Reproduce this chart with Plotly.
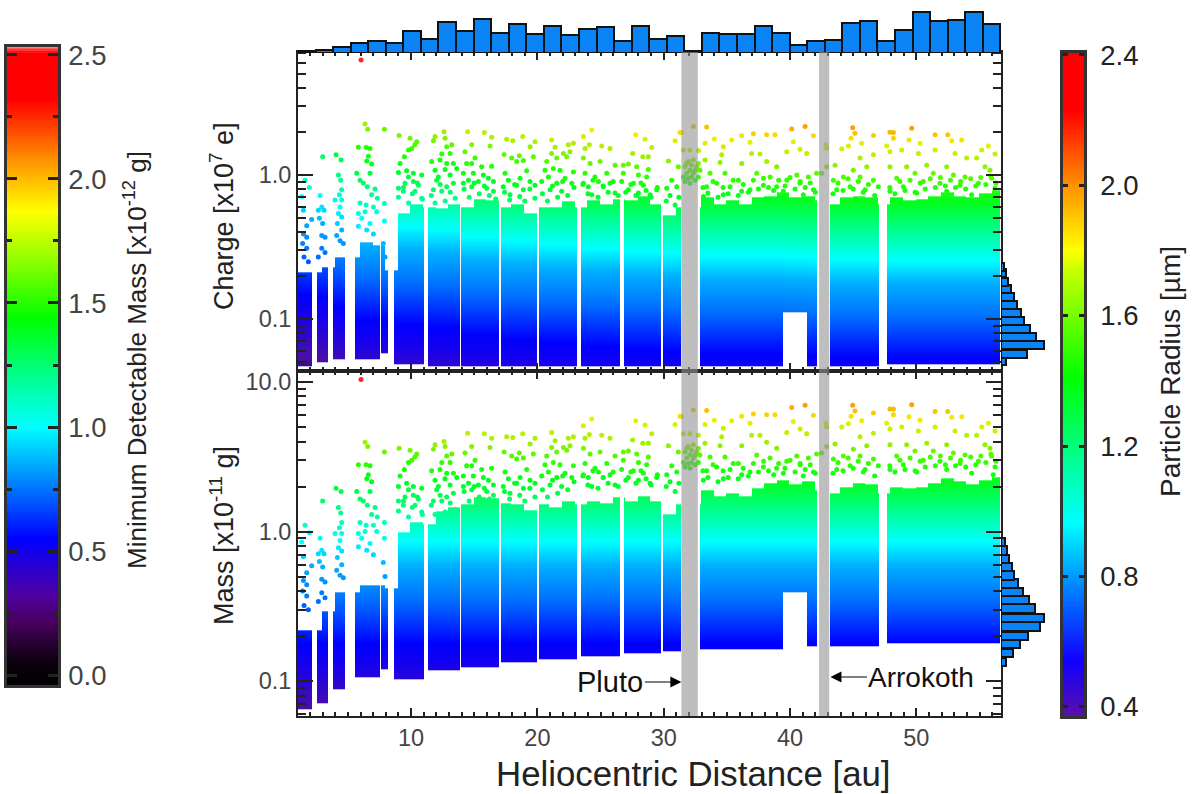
import numpy as np
import plotly.graph_objects as go

W, H = 1192, 794

# ---- solid regions of the scatter, one row per observation arc ----
band_x0 = [1.05, 2.55, 3.85, 5.57, 7.7, 8.65, 11.35, 14.0, 17.2, 20.15, 23.45, 26.85, 30.0, 32.9, 39.45, 41.4, 43.2, 47.7]
band_x1 = [2.16, 3.43, 4.8, 7.6, 8.2, 11.1, 13.9, 17.0, 20.0, 23.15, 26.55, 29.8, 31.4, 39.45, 41.4, 42.2, 47.1, 56.65]
band_charge_lo = [.047, .05, .053, .053, .058, .048, .047, .047, .047, .047, .047, .047, .047, .047, .112, .047, .047, .048]
band_mass_lo = [.065, .071, .089, .105, .121, .104, .117, .123, .133, .139, .146, .153, .158, .165, .39, .173, .17, .18]
band_mass_per_charge = [1.2, 1.25, 1.45, 1.8, 1.85, 1.95, 2.05, 2.3, 2.45, 2.6, 2.75, 2.9, 3.0, 3.1, 3.15, 3.2, 3.3, 3.35]

# top of the solid region per 1 au, from 1 au to 56 au
charge_top = [.21, .21, .23, .27, .27, .34, .33, .22, .55, .62, .6, .58, .62, .6, .68, .66, .6, .62, .55, .6, .6, .65, .6, .66, .62, .68, .66, .72, .62, .52, .6, .6, .7, .62, .66, .62, .7, .72, .76, .7, .72, .66, .62, .7, .72, .7, .62, .7, .66, .68, .72, .76, .72, .7, .75, .78]
mass_top = [.22, .22, .29, .39, .39, .44, .44, .42, 1.0, 1.15, 1.1, 1.35, 1.45, 1.5, 1.7, 1.65, 1.55, 1.5, 1.4, 1.5, 1.45, 1.6, 1.5, 1.6, 1.55, 1.7, 1.6, 1.75, 1.6, 1.3, 1.5, 1.5, 1.9, 1.75, 1.8, 1.75, 1.95, 2.1, 2.2, 2.05, 2.15, 1.9, 1.8, 2.0, 2.1, 2.05, 1.8, 2.0, 1.95, 2.0, 2.1, 2.25, 2.15, 2.05, 2.2, 2.3]

# ---- individually visible particles ----
dot_x = [
 1.61, 1.95, 1.34, 1.48, 2.13, 1.74, 1.48, 1.74, 1.42, 1.74, 1.53, 1.87,
 3.0, 2.8, 2.93, 2.66, 3.11, 2.74, 3.0, 2.93, 3.19, 2.93, 2.66, 3.19,
 4.06, 4.46, 4.25, 4.43, 4.51, 4.33, 3.98, 4.51, 4.38, 4.25, 4.51, 4.17, 4.51, 4.11, 4.38, 4.64,
 6.36, 6.57, 5.83, 6.44, 6.75, 6.62, 6.49, 6.88, 5.7, 6.75, 5.96, 6.22, 6.54, 7.15, 6.88, 7.33, 5.96, 6.44, 7.02, 5.83, 6.36, 7.28, 6.09, 6.75, 5.83, 6.49, 7.02,
 7.89, 7.89, 7.89, 7.8, 7.94, 6.04,
 9.05, 9.92, 10.45, 10.3, 10.05, 9.79, 9.47, 9.13, 9.0, 9.65, 10.18, 9.79, 10.84, 9.52, 10.18, 10.58, 9.0, 9.39, 10.31, 10.84,
 11.9, 11.77, 12.61, 12.69, 13.22, 12.82, 12.43, 13.09, 11.63, 12.29, 12.82, 13.35, 11.9, 12.69, 13.61, 12.16, 13.09, 12.03, 13.35, 11.77, 12.82, 12.43,
 14.48, 15.8, 16.38, 14.8, 16.25, 14.27, 15.06, 14.8, 14.4, 15.59, 16.38, 14.14, 14.93, 15.72, 16.12, 16.52, 14.54, 15.33, 14.14, 14.8, 15.99, 16.52,
 17.57, 18.84, 18.05, 19.81, 19.42, 17.36, 18.57, 19.68, 17.97, 18.89, 18.36, 17.44, 19.15, 18.63, 17.7, 19.42, 18.36, 17.3, 18.89, 17.83, 19.81,
 21.13, 22.45, 22.85, 21.4, 21.13, 22.06, 22.58, 20.74, 21.53, 22.32, 20.6, 21.26, 22.85, 21.79, 20.87, 22.19, 20.34, 21.53, 22.72, 21.0, 21.92,
 23.64, 24.3, 24.11, 23.77, 25.09, 25.75, 23.64, 24.17, 24.96, 26.15, 23.77, 24.56, 25.49, 23.64, 24.83, 25.75, 24.03, 25.22, 26.15, 24.3,
 27.78, 28.52, 29.05, 27.54, 28.34, 28.78, 26.8, 27.2, 27.86, 28.78, 26.8, 28.0, 28.65, 26.67, 27.6, 28.39, 29.44, 27.2, 28.0, 28.92,
 31.29, 30.9, 30.37, 31.16, 30.63, 30.24, 31.03,
 32.35, 33.4, 31.42, 31.56, 32.08, 32.74, 31.69, 31.95, 32.35, 32.74, 31.82, 32.08, 32.48, 32.87, 31.69, 32.08, 32.48, 32.74, 32.2, 31.95, 31.56, 32.61, 32.2, 31.82, 32.35,
 33.27, 34.01, 35.38, 36.17, 37.1, 38.15, 38.81, 40.13, 41.19, 41.85, 40.26, 36.83, 34.72, 34.59, 36.96, 37.62, 40.79, 41.32, 39.74, 33.27, 34.46, 36.17, 38.15, 38.94, 40.53, 33.67, 34.85, 35.91, 37.36, 38.42, 39.74, 41.45, 42.1, 33.4, 34.19, 35.25, 36.83, 37.89, 38.94, 40.79, 41.85, 33.14, 34.72, 36.17, 39.47, 41.05,
 42.85, 42.9, 42.9, 42.5,
 44.96, 45.14, 44.83, 46.6, 45.67, 44.62, 44.09, 45.54, 46.6, 43.56, 45.01, 46.07, 44.22, 45.54, 46.6, 43.43, 43.69, 44.75, 45.94, 46.99,
 47.65, 47.91, 48.18, 48.18, 49.63, 51.48, 52.48, 52.8, 53.59, 49.42, 50.29, 47.91, 48.84, 50.16, 51.48, 53.06, 55.7, 55.17, 56.23, 47.91, 49.23, 50.82, 52.4, 53.98, 54.77, 55.43, 55.83, 48.44, 49.89, 51.34, 52.93, 53.85, 55.96, 48.97, 50.55, 51.87, 53.46, 54.91, 56.23, 47.91, 50.03, 52.4, 54.38, 56.09,
 # just above the solid region
 9.0, 9.4, 9.8, 10.1, 10.5, 10.9, 11.6, 11.9, 12.3, 12.7, 13.1, 13.5, 14.2, 14.6, 15.0, 15.4, 15.8, 16.2, 16.7,
 17.4, 17.8, 18.2, 18.6, 19.0, 19.4, 19.8, 20.4, 20.8, 21.2, 21.6, 22.0, 22.4, 22.9, 23.6, 24.0, 24.4, 24.8, 25.2, 25.6, 26.0, 26.4,
 27.0, 27.4, 27.8, 28.2, 28.6, 29.0, 29.5, 30.2, 30.5, 30.9, 31.2, 33.1, 33.5, 33.9, 34.3, 34.7, 35.1, 35.5, 35.9, 36.3, 36.7,
 37.1, 37.5, 37.9, 38.3, 38.7, 39.1, 39.6, 40.0, 40.4, 40.8, 41.2, 41.6, 42.0, 43.4, 43.8, 44.2, 44.6, 45.0, 45.4, 45.8, 46.2, 46.7,
 47.9, 48.3, 48.7, 49.1, 49.5, 49.9, 50.3, 50.7, 51.1, 51.5, 51.9, 52.3, 52.7, 53.1, 53.5, 53.9, 54.3, 54.7, 55.1, 55.5, 55.9, 56.3,
]
dot_charge = [
 .92, .82, .71, .57, .49, .445, .39, .37, .335, .31, .27, .25,
 1.34, .72, .6, .57, .57, .5, .46, .38, .37, .31, .27, .29,
 1.38, 1.27, 1.0, .92, .79, .73, .67, .67, .6, .54, .51, .46, .415, .38, .35, .335,
 2.26, 2.08, 1.56, 1.55, 1.53, 1.35, 1.25, 1.19, 1.03, 1.03, .92, .88, .83, .8, .73, .69, .64, .62, .6, .54, .555, .555, .5, .46, .44, .415, .39,
 2.08, .635, .48, .335, .27, 6.29,
 1.88, 1.8, 1.7, 1.62, 1.53, 1.49, 1.34, 1.2, 1.04, 1.07, 1.03, .97, 1.0, .875, .9, .85, .81, .77, .77, .69,
 1.85, 1.73, 2.0, 1.8, 1.62, 1.57, 1.4, 1.41, 1.24, 1.27, 1.2, 1.2, 1.08, 1.09, 1.11, .97, 1.0, .92, .875, .79, .83, .77,
 2.0, 1.97, 1.83, 1.62, 1.59, 1.45, 1.31, 1.2, 1.2, 1.14, 1.15, 1.03, 1.03, 1.0, .95, .9, .92, .9, .875, .83, .81, .77,
 1.77, 1.85, 1.73, 1.7, 1.57, 1.39, 1.36, 1.34, 1.31, 1.26, 1.24, 1.03, 1.07, .95, .92, .9, .85, .83, .79, .73, .85,
 1.75, 1.62, 1.66, 1.56, 1.41, 1.41, 1.45, 1.24, 1.31, 1.34, 1.08, 1.11, 1.05, 1.08, .97, .95, .9, .875, .875, .79, .77,
 1.85, 2.05, 1.62, 1.53, 1.59, 1.53, 1.31, 1.2, 1.24, 1.17, 1.03, .97, 1.03, .875, .9, .875, .83, .83, .75, .73,
 1.9, 1.77, 1.55, 1.41, 1.34, 1.34, 1.17, 1.19, 1.14, 1.09, 1.03, 1.0, .97, .9, .875, .85, .79, .79, .75, .73,
 1.97, 1.73, 1.25, 1.14, .92, .81, .83,
 2.17, 2.15, 1.97, 1.49, 1.49, 1.48, 1.14, 1.24, 1.27, 1.2, 1.03, 1.08, 1.08, 1.08, .9, .875, .92, .97, .97, .95, .97, 1.14, 1.17, 1.2, 1.03,
 1.66, 1.78, 1.75, 1.87, 1.93, 1.9, 1.9, 2.09, 2.17, 1.87, 1.7, 1.69, 1.57, 1.38, 1.41, 1.4, 1.51, 1.41, 1.45, 1.27, 1.22, 1.2, 1.24, 1.14, 1.0, 1.03, 1.03, .92, 1.03, .97, .92, .97, 1.03, .83, .875, .83, .79, .85, .83, .875, .79, .71, .73, .77, .77, .73,
 1.62, 1.53, 1.14, 1.03,
 2.13, 1.95, 1.8, 1.88, 1.66, 1.59, 1.52, 1.31, 1.38, 1.17, 1.08, 1.14, .97, .97, .92, .92, .79, .83, .79, .83,
 1.59, 1.98, 1.97, 1.8, 2.11, 1.9, 1.9, 1.73, 1.75, 1.75, 1.66, 1.45, 1.49, 1.41, 1.49, 1.41, 1.59, 1.49, 1.4, 1.14, 1.14, 1.17, 1.14, 1.31, 1.31, 1.14, 1.08, .95, 1.03, 1.03, 1.0, .97, .95, .83, .9, .875, .85, .875, .81, .77, .75, .77, .73, .71,
 # just above the solid region
 .70, .82, .64, .74, .88, .68, .72, .64, .86, .66, .76, .69, .80, .70, .88, .74, .84, .72, .68,
 .76, .67, .86, .71, .66, .80, .69, .74, .66, .84, .70, .90, .72, .82, .86, .74, .92, .70, .84, .76, .90, .72,
 .76, .86, .72, .88, .78, .70, .82, .66, .72, .62, .70, .82, .75, .90, .70, .82, .74, .92, .72, .86, .76,
 .92, .80, .95, .82, .78, .92, .84, .96, .80, .90, .82, .88, .76, .74, .88, .78, .94, .80, .90, .76, .86, .72,
 .82, .74, .90, .78, .92, .76, .88, .80, .94, .82, .96, .84, .92, .82, .90, .80, .94, .84, .96, .86, .98, .88,
]
dot_mass = [
 1.1, .98, .85, .68, .59, .53, .47, .44, .4, .37, .32, .3,
 1.6, .9, .75, .71, .71, .63, .58, .48, .46, .39, .34, .36,
 1.95, 1.85, 1.45, 1.33, 1.15, 1.06, .97, .97, .87, .78, .74, .67, .6, .55, .51, .49,
 3.96, 3.7, 2.8, 2.8, 2.75, 2.4, 2.25, 2.15, 1.85, 1.85, 1.65, 1.6, 1.5, 1.45, 1.3, 1.25, 1.15, 1.1, 1.1, .97, 1.0, 1.0, .9, .83, .79, .75, .7,
 3.4, 1.15, .9, .62, .5, 10.4,
 3.6, 3.5, 3.3, 3.15, 3.0, 2.9, 2.6, 2.35, 2.0, 2.1, 2.0, 1.9, 1.95, 1.7, 1.75, 1.65, 1.6, 1.5, 1.5, 1.35,
 3.8, 3.55, 4.0, 3.7, 3.3, 3.2, 2.9, 2.9, 2.55, 2.6, 2.45, 2.45, 2.2, 2.25, 2.3, 2.0, 2.05, 1.9, 1.8, 1.6, 1.7, 1.6,
 4.55, 4.5, 4.2, 3.7, 3.65, 3.35, 3.0, 2.75, 2.75, 2.6, 2.65, 2.35, 2.35, 2.3, 2.2, 2.05, 2.1, 2.05, 2.0, 1.9, 1.85, 1.75,
 4.3, 4.5, 4.25, 4.2, 3.85, 3.4, 3.35, 3.3, 3.2, 3.1, 3.05, 2.5, 2.6, 2.3, 2.25, 2.2, 2.1, 2.0, 1.95, 1.8, 2.1,
 4.6, 4.2, 4.3, 4.05, 3.65, 3.65, 3.75, 3.2, 3.4, 3.5, 2.8, 2.9, 2.75, 2.8, 2.5, 2.45, 2.35, 2.3, 2.3, 2.05, 2.0,
 5.1, 5.65, 4.45, 4.2, 4.4, 4.2, 3.6, 3.3, 3.4, 3.2, 2.85, 2.65, 2.85, 2.4, 2.5, 2.4, 2.3, 2.3, 2.05, 2.0,
 5.5, 5.15, 4.5, 4.1, 3.9, 3.9, 3.4, 3.45, 3.3, 3.15, 3.0, 2.9, 2.8, 2.6, 2.55, 2.45, 2.3, 2.3, 2.2, 2.1,
 5.9, 5.2, 3.75, 3.4, 2.75, 2.4, 2.5,
 6.5, 6.45, 5.9, 4.5, 4.5, 4.4, 3.4, 3.7, 3.8, 3.6, 3.1, 3.25, 3.25, 3.25, 2.7, 2.65, 2.8, 2.9, 2.9, 2.85, 2.9, 3.4, 3.5, 3.6, 3.1,
 5.2, 5.55, 5.5, 5.9, 6.1, 6.05, 6.05, 6.75, 7.0, 6.0, 5.45, 5.3, 4.9, 4.3, 4.4, 4.4, 4.85, 4.5, 4.6, 3.9, 3.75, 3.75, 3.95, 3.6, 3.2, 3.15, 3.15, 2.85, 3.25, 3.1, 2.95, 3.1, 3.3, 2.55, 2.7, 2.6, 2.5, 2.7, 2.65, 2.8, 2.5, 2.2, 2.25, 2.4, 2.45, 2.35,
 5.3, 5.0, 3.7, 3.35,
 7.0, 6.4, 5.9, 6.2, 5.5, 5.25, 5.0, 4.3, 4.55, 3.85, 3.55, 3.75, 3.2, 3.2, 3.05, 3.05, 2.6, 2.75, 2.6, 2.75,
 5.3, 6.6, 6.6, 6.05, 7.05, 6.35, 6.35, 5.8, 5.85, 5.85, 5.55, 4.85, 5.0, 4.7, 5.0, 4.7, 5.3, 5.0, 4.7, 3.8, 3.8, 3.9, 3.8, 4.4, 4.4, 3.8, 3.6, 3.2, 3.45, 3.45, 3.35, 3.25, 3.2, 2.8, 3.0, 2.95, 2.85, 2.95, 2.7, 2.6, 2.5, 2.6, 2.45, 2.4,
 # just above the solid region
 1.37, 1.6, 1.25, 1.45, 1.7, 1.3, 1.5, 1.3, 1.75, 1.35, 1.55, 1.4, 1.85, 1.6, 2.0, 1.7, 1.95, 1.65, 1.55,
 1.85, 1.65, 2.1, 1.75, 1.6, 1.95, 1.7, 1.9, 1.7, 2.2, 1.8, 2.35, 1.9, 2.15, 2.35, 2.05, 2.55, 1.95, 2.3, 2.1, 2.5, 2.0,
 2.2, 2.5, 2.1, 2.55, 2.25, 2.05, 2.4, 2.0, 2.15, 1.85, 2.1, 2.55, 2.3, 2.8, 2.15, 2.55, 2.3, 2.85, 2.25, 2.65, 2.35,
 2.85, 2.5, 2.95, 2.55, 2.4, 2.85, 2.65, 3.0, 2.5, 2.85, 2.6, 2.8, 2.45, 2.45, 2.9, 2.55, 3.1, 2.65, 2.95, 2.5, 2.85, 2.35,
 2.75, 2.5, 3.0, 2.6, 3.1, 2.55, 2.95, 2.7, 3.15, 2.75, 3.2, 2.8, 3.1, 2.75, 3.0, 2.7, 3.15, 2.8, 3.2, 2.9, 3.3, 2.95,
]

# ---- histograms ----
dist_hist_edges_start, dist_hist_bin = 1.05, 1.39
dist_hist = [5, 10, 18, 30, 37, 30, 67, 42, 92, 67, 102, 60, 86, 58, 82, 54, 73, 79, 35, 82, 42, 50, 5, 60, 57, 58, 82, 60, 25, 35, 40, 90, 97, 35, 70, 122, 95, 100, 122, 88]
charge_hist_log = [-1.292, -1.241, -1.183, -1.125, -1.067, -1.012, -.958, -.903, -.85, -.794, -.741, -.683, -.637]
charge_hist = [15, 78, 128, 105, 88, 70, 60, 48, 40, 30, 22, 15, 10]
mass_hist_log = [-.874, -.812, -.754, -.698, -.635, -.577, -.515, -.457, -.404, -.348, -.294, -.239, -.183, -.127, -.071]
mass_hist = [15, 35, 57, 82, 118, 128, 102, 85, 65, 50, 40, 33, 25, 18, 13]

# ---- ticks ----
dist_ticks = [10, 20, 30, 40, 50]
charge_ticks = [.1, 1.0]
charge_tick_text = ["0.1", "1.0"]
mass_ticks = [.1, 1.0, 10.0]
mass_tick_text = ["0.1", "1.0", "10.0"]
min_mass_ticks = [0, .5, 1, 1.5, 2, 2.5]
radius_ticks = [.4, .8, 1.2, 1.6, 2.0, 2.4]

flyby_x0 = [31.4, 42.3]
flyby_x1 = [32.7, 43.1]

# ---- colour scales ----
data_cmin, data_cmax = -1.25, 1.05
data_scale = [[0, "#3a0a90"], [.027, "#4b10a8"], [.158, "#1500f0"], [.217, "#0000ff"], [.345, "#0070ff"],
              [.444, "#00b0ff"], [.513, "#00ffff"], [.59, "#00ffa0"], [.687, "#00ff20"], [.745, "#30ff00"],
              [.803, "#a0f000"], [.872, "#f0f000"], [.911, "#ffa000"], [.987, "#ff2020"], [1, "#ff0000"]]
left_lo, left_hi = -.04, 2.532
left_stops = [(-.04, "#000000"), (.05, "#0a000c"), (.22, "#4a0060"), (.32, "#5000a0"), (.55, "#0000ff"), (.8, "#0090ff"),
              (1.0, "#00ffff"), (1.2, "#00ff90"), (1.44, "#00ff00"), (1.7, "#a0ff00"), (1.87, "#ffff00"), (2.05, "#ffa000"),
              (2.32, "#ff0000"), (2.51, "#ff0000"), (2.532, "#ff8080")]
right_lo, right_hi = .372, 2.406
right_stops = [(.372, "#5a10a8"), (.545, "#1000ff"), (.76, "#0080ff"), (.965, "#00ffff"), (1.19, "#00ff80"), (1.41, "#00ff00"),
               (1.74, "#c8ff00"), (1.8, "#ffff00"), (2.0, "#ff9000"), (2.23, "#ff0000"), (2.406, "#ff0000")]


def stops_to_scale(stops, lo, hi):
    return [[(v - lo) / (hi - lo), c] for v, c in stops]


def xdom(a, b):
    return [a / W, b / W]


def ydom(top, bottom):
    return [1 - bottom / H, 1 - top / H]


def solid_region(y_grid, lows, tops, colour_by_ratio):
    cols = np.arange(1.05, 56.7, 0.1) + 0.05
    z = np.full((len(y_grid), len(cols)), np.nan)
    for j, x in enumerate(cols):
        for i in range(len(band_x0)):
            if band_x0[i] <= x < band_x1[i]:
                top = tops[min(int(x - 1), 55)]
                mask = (y_grid >= lows[i]) & (y_grid <= top)
                ratio = band_mass_per_charge[i] if colour_by_ratio else 1.0
                z[mask, j] = np.log10(y_grid[mask] * ratio)
    return cols, z


top_range = [-1.361, .854]
bot_range = [-1.234, 1.0736]
y_q = 10 ** np.linspace(top_range[0], top_range[1], 230)
y_m = 10 ** np.linspace(bot_range[0], bot_range[1], 240)

fig = go.Figure()

cols, z_q = solid_region(y_q, band_charge_lo, charge_top, True)
fig.add_trace(go.Heatmap(x=cols, y=y_q, z=z_q, coloraxis="coloraxis", xaxis="x", yaxis="y", hoverinfo="skip"))
cols, z_m = solid_region(y_m, band_mass_lo, mass_top, False)
fig.add_trace(go.Heatmap(x=cols, y=y_m, z=z_m, coloraxis="coloraxis", xaxis="x2", yaxis="y2", hoverinfo="skip"))

dot_col = np.log10(np.array(dot_mass))
fig.add_trace(go.Scatter(x=dot_x, y=dot_charge, mode="markers", xaxis="x", yaxis="y",
                         marker=dict(size=5, color=dot_col, coloraxis="coloraxis", line=dict(width=0))))
fig.add_trace(go.Scatter(x=dot_x, y=dot_mass, mode="markers", xaxis="x2", yaxis="y2",
                         marker=dict(size=5, color=dot_col, coloraxis="coloraxis", line=dict(width=0))))

bar_col = "#0a84f5"
bar_line = dict(color="#111111", width=2)
centres = [dist_hist_edges_start + dist_hist_bin * (i + .5) for i in range(len(dist_hist))]
fig.add_trace(go.Bar(x=centres, y=dist_hist, width=dist_hist_bin, xaxis="x3", yaxis="y3",
                     marker=dict(color=bar_col, line=bar_line)))
fig.add_trace(go.Bar(y=charge_hist_log, x=charge_hist, orientation="h", width=.0567, xaxis="x4", yaxis="y4",
                     marker=dict(color=bar_col, line=bar_line)))
fig.add_trace(go.Bar(y=mass_hist_log, x=mass_hist, orientation="h", width=.0567, xaxis="x5", yaxis="y5",
                     marker=dict(color=bar_col, line=bar_line)))

ramp_l = np.linspace(left_lo, left_hi, 400)
fig.add_trace(go.Heatmap(x=[0, 1], y=ramp_l, z=np.column_stack([ramp_l, ramp_l]), xaxis="x6", yaxis="y6", showscale=False,
                         colorscale=stops_to_scale(left_stops, left_lo, left_hi), zmin=left_lo, zmax=left_hi, hoverinfo="skip"))
ramp_r = np.linspace(right_lo, right_hi, 400)
fig.add_trace(go.Heatmap(x=[0, 1], y=ramp_r, z=np.column_stack([ramp_r, ramp_r]), xaxis="x7", yaxis="y7", showscale=False,
                         colorscale=stops_to_scale(right_stops, right_lo, right_hi), zmin=right_lo, zmax=right_hi, hoverinfo="skip"))

FONT = "Liberation Sans"
GREY = "#444444"
AX = "#222222"
log_minor = lambda dec: [m * 10.0 ** d for d in dec for m in range(2, 10)]


def main_x(show, anchor):
    return dict(domain=xdom(298, 1001), range=[1.05, 56.7], anchor=anchor, showline=True, linecolor=AX, linewidth=2,
                mirror="ticks", ticks="inside", ticklen=8, tickwidth=2, tickcolor=AX, tickmode="array", tickvals=dist_ticks,
                showticklabels=show, showgrid=False, zeroline=False, tickfont=dict(size=23.5, color=GREY, family=FONT),
                minor=dict(ticks="inside", ticklen=4, tickwidth=2, tickcolor=AX, dtick=1, tick0=0, showgrid=False))


def main_y(rng, vals, text, dec, dom, anchor):
    return dict(domain=dom, type="log", range=rng, anchor=anchor, showline=True, linecolor=AX, linewidth=2,
                mirror="ticks", ticks="inside", ticklen=15, tickwidth=2, tickcolor=AX, tickmode="array", tickvals=vals, ticktext=text,
                showgrid=False, zeroline=False, tickfont=dict(size=23.5, color=GREY, family=FONT),
                minor=dict(ticks="inside", ticklen=8, tickwidth=2, tickcolor=AX, tickmode="array", tickvals=log_minor(dec), showgrid=False))


def hidden(**kw):
    d = dict(visible=False, showgrid=False, zeroline=False, fixedrange=True)
    d.update(kw)
    return d


def bar_x(dom, anchor):
    return dict(domain=dom, range=[0, 1], anchor=anchor, visible=True, showticklabels=False, ticks="", showgrid=False,
                zeroline=False, showline=True, linecolor="#333333", linewidth=2.5, mirror=True)


def annot(text, x, y, size, angle=0, color="#222222"):
    return dict(text=text, x=x / W, y=1 - y / H, xref="paper", yref="paper", showarrow=False, textangle=angle,
                font=dict(size=size, color=color, family=FONT), xanchor="center", yanchor="middle")


def arrow(x_head, y_px, dx):
    return dict(text="", x=x_head, y=1 - y_px / H, xref="x2", yref="paper", ax=dx, ay=0, axref="pixel", ayref="pixel",
                showarrow=True, arrowhead=2, arrowsize=2.2, arrowwidth=1, arrowcolor="#000000")


fig.update_layout(
    width=W, height=H, margin=dict(l=0, r=0, t=0, b=0, autoexpand=False), autosize=False,
    plot_bgcolor="white", paper_bgcolor="white", showlegend=False, bargap=0,
    coloraxis=dict(colorscale=data_scale, cmin=data_cmin, cmax=data_cmax, showscale=False),
    xaxis=main_x(False, "y"),
    yaxis=main_y(top_range, charge_ticks, charge_tick_text, [-2, -1, 0], ydom(52, 371), "x"),
    xaxis2=main_x(True, "y2"),
    yaxis2=main_y(bot_range, mass_ticks, mass_tick_text, [-2, -1, 0, 1], ydom(371, 716), "x2"),
    xaxis3=hidden(domain=xdom(298, 1001), range=[1.05, 56.7], anchor="y3"),
    yaxis3=hidden(domain=ydom(11, 53), range=[0, 126], anchor="x3"),
    xaxis4=hidden(domain=xdom(1001, 1045), range=[0, 132], anchor="y4"),
    yaxis4=hidden(domain=ydom(52, 371), range=top_range, anchor="x4"),
    xaxis5=hidden(domain=xdom(1001, 1045), range=[0, 132], anchor="y5"),
    yaxis5=hidden(domain=ydom(371, 716), range=bot_range, anchor="x5"),
    xaxis6=bar_x(xdom(7, 58), "y6"),
    yaxis6=dict(domain=ydom(47, 685), range=[left_lo, left_hi], anchor="x6", side="right", showline=True, linecolor="#333333",
                linewidth=2.5, mirror="ticks", ticks="inside", ticklen=10, tickwidth=2.5, tickcolor="#222222", tickmode="array",
                tickvals=min_mass_ticks, ticktext=[f"{v:.1f}" for v in min_mass_ticks], showgrid=False, zeroline=False,
                tickfont=dict(size=27.5, color=GREY, family=FONT), ticklabelstandoff=2,
                minor=dict(ticks="inside", ticklen=5, tickwidth=2.5, tickcolor="#222222", dtick=.25, tick0=0, showgrid=False)),
    xaxis7=bar_x(xdom(1063, 1084), "y7"),
    yaxis7=dict(domain=ydom(53, 716), range=[right_lo, right_hi], anchor="x7", side="right", showline=True, linecolor="#333333",
                linewidth=2.5, mirror="ticks", ticks="inside", ticklen=5, tickwidth=2.5, tickcolor="#222222", tickmode="array",
                tickvals=radius_ticks, ticktext=[f"{v:.1f}" for v in radius_ticks], showgrid=False, zeroline=False,
                tickfont=dict(size=27.5, color="#222222", family=FONT), ticklabelstandoff=8),
    shapes=[dict(type="rect", xref="x2", yref="paper", x0=a, x1=b, y0=1 - 716 / H, y1=1 - 52 / H, layer="above",
                 line=dict(width=0), fillcolor="rgba(147,147,147,0.6)") for a, b in zip(flyby_x0, flyby_x1)],
    annotations=[
        annot("Heliocentric Distance [au]", 693, 773, 34.8),
        annot("Charge [x10<sup>7</sup> e]", 222, 216, 27, -90),
        annot("Mass [x10<sup>-11</sup> g]", 222, 536, 27, -90),
        annot("Minimum Detectable Mass [x10<sup>-12</sup> g]", 135, 360, 26, -90),
        annot("Particle Radius [µm]", 1170, 372, 28, -90),
        annot("Pluto", 610, 682, 29, 0, "#111111"),
        annot("Arrokoth", 921, 677, 28, 0, "#111111"),
        arrow(31.4, 682, -38),
        arrow(43.2, 677, 38),
    ],
)

fig.write_html("out.html", config=dict(displayModeBar=False), post_script="document.body.style.margin='0';")
